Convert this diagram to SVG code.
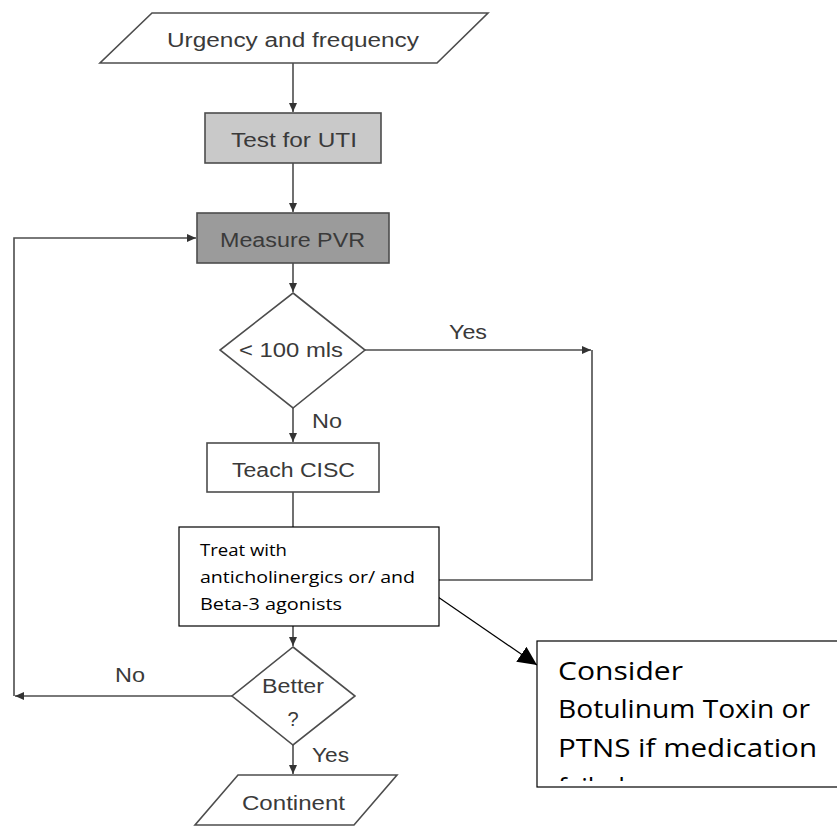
<svg xmlns="http://www.w3.org/2000/svg" width="837" height="827" viewBox="0 0 837 827">
<style>
.shape{stroke:#4d4d4d;stroke-width:1.6;fill:#ffffff}
.lbl{font-family:"Liberation Sans",Arial,sans-serif;font-size:20px;fill:#3a3a3a}
.conn{stroke:#4d4d4d;stroke-width:1.6;fill:none}
.note{stroke:#000;stroke-width:1.2;fill:#ffffff}
.ntxt{font-family:"Open Sans","Liberation Sans",sans-serif;fill:#000}
</style>
<defs>
<marker id="ah" markerUnits="userSpaceOnUse" markerWidth="10" markerHeight="8" refX="9" refY="4" orient="auto">
<path d="M0,0 L9,4 L0,8 z" fill="#333"/>
</marker>
<marker id="big" markerUnits="userSpaceOnUse" markerWidth="20" markerHeight="18" refX="19" refY="9" orient="auto">
<path d="M0,0 L19,9 L0,18 z" fill="#000"/>
</marker>
<clipPath id="clipC"><rect x="537" y="641" width="310" height="140"/></clipPath>
</defs>

<g id="connectors">
<path class="conn" d="M293,63 V112" marker-end="url(#ah)"/>
<path class="conn" d="M293,163 V212" marker-end="url(#ah)"/>
<path class="conn" d="M293,263 V292" marker-end="url(#ah)"/>
<path class="conn" d="M365,350 H591" marker-end="url(#ah)"/>
<path class="conn" d="M592,350 V580 H439"/>
<path class="conn" d="M293,408 V442" marker-end="url(#ah)"/>
<path class="conn" d="M293,492 V527"/>
<path class="conn" d="M293,626 V646" marker-end="url(#ah)"/>
<path class="conn" d="M232,696 H15" marker-end="url(#ah)"/>
<path class="conn" d="M14,696 V238 H196" marker-end="url(#ah)"/>
<path class="conn" d="M293,745 V774" marker-end="url(#ah)"/>
<path d="M438,597 L537,665" stroke="#000" stroke-width="1.2" fill="none" marker-end="url(#big)"/>
<text class="lbl" x="449" y="339" textLength="38" lengthAdjust="spacingAndGlyphs">Yes</text>
<text class="lbl" x="312" y="428" textLength="30" lengthAdjust="spacingAndGlyphs">No</text>
<text class="lbl" x="115" y="682" textLength="30" lengthAdjust="spacingAndGlyphs">No</text>
<text class="lbl" x="312" y="762" textLength="37" lengthAdjust="spacingAndGlyphs">Yes</text>
</g>

<g id="urgency">
<polygon class="shape" points="152,13 488,13 437,63 100,63"/>
<text class="lbl" x="167" y="47" textLength="252" lengthAdjust="spacingAndGlyphs">Urgency and frequency</text>
</g>

<g id="test-uti">
<rect class="shape" x="205" y="113" width="176" height="50" style="fill:#c9c9c9"/>
<text class="lbl" x="231" y="147" textLength="126" lengthAdjust="spacingAndGlyphs">Test for UTI</text>
</g>

<g id="measure-pvr">
<rect class="shape" x="197" y="213" width="192" height="50" style="fill:#9b9b9b"/>
<text class="lbl" x="220" y="247" textLength="145" lengthAdjust="spacingAndGlyphs">Measure PVR</text>
</g>

<g id="decision-100">
<polygon class="shape" points="293,293 365,350 293,408 220,350"/>
<text class="lbl" x="239" y="357" textLength="104" lengthAdjust="spacingAndGlyphs">&lt; 100 mls</text>
</g>

<g id="teach-cisc">
<rect class="shape" x="207" y="443" width="172" height="49"/>
<text class="lbl" x="232" y="477" textLength="123" lengthAdjust="spacingAndGlyphs">Teach CISC</text>
</g>

<g id="treat">
<rect class="note" x="179" y="527" width="260" height="99"/>
<text class="ntxt" font-size="16" x="200" y="556" textLength="87" lengthAdjust="spacingAndGlyphs">Treat with</text>
<text class="ntxt" font-size="16" x="200" y="583" textLength="215" lengthAdjust="spacingAndGlyphs">anticholinergics or/ and</text>
<text class="ntxt" font-size="16" x="200" y="610" textLength="142" lengthAdjust="spacingAndGlyphs">Beta-3 agonists</text>
</g>

<g id="better">
<polygon class="shape" points="293,647 355,696 293,745 232,696"/>
<text class="lbl" x="262" y="693" textLength="62" lengthAdjust="spacingAndGlyphs">Better</text>
<text class="lbl" x="293" y="726" text-anchor="middle">?</text>
</g>

<g id="continent">
<polygon class="shape" points="238,775 397,775 354,825 195,825"/>
<text class="lbl" x="242" y="810" textLength="103" lengthAdjust="spacingAndGlyphs">Continent</text>
</g>

<g id="consider">
<rect class="note" x="537" y="641" width="310" height="146"/>
<g clip-path="url(#clipC)">
<text class="ntxt" font-size="26" x="558" y="680" textLength="125" lengthAdjust="spacingAndGlyphs">Consider</text>
<text class="ntxt" font-size="26" x="558" y="718" textLength="252" lengthAdjust="spacingAndGlyphs">Botulinum Toxin or</text>
<text class="ntxt" font-size="26" x="558" y="757" textLength="259" lengthAdjust="spacingAndGlyphs">PTNS if medication</text>
<text class="ntxt" font-size="26" x="558" y="796">failed</text>
</g>
</g>
</svg>
